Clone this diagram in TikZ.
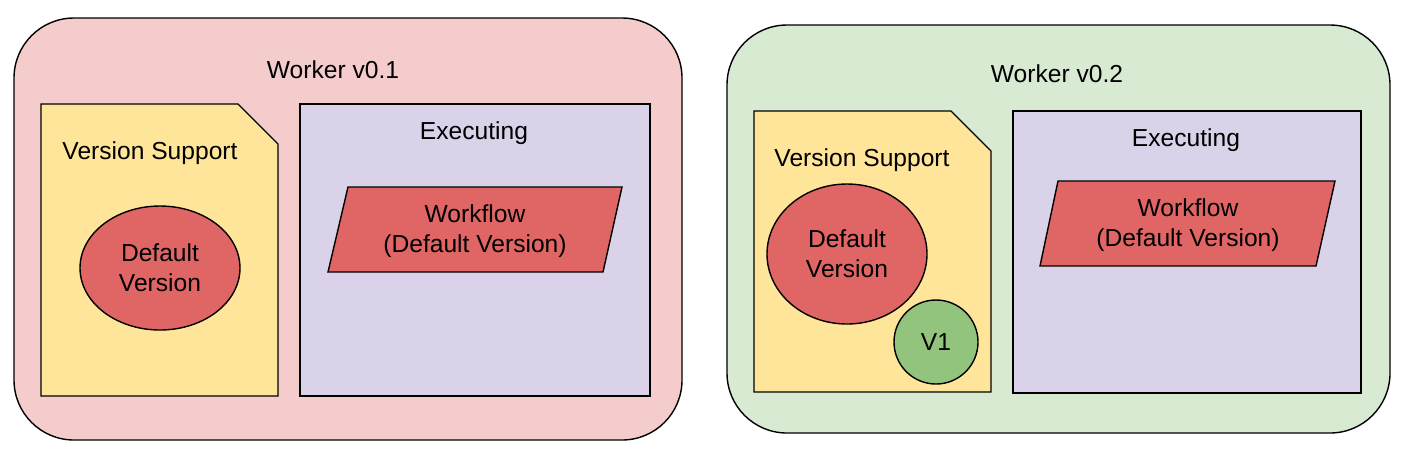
\documentclass[tikz,border=0pt]{standalone}
\usepackage{fontspec}
\setmainfont{Liberation Sans}
\usetikzlibrary{shapes.geometric}
\definecolor{pinkbg}{HTML}{F4CCCC}
\definecolor{greenbg}{HTML}{D9EAD3}
\definecolor{yel}{HTML}{FFE599}
\definecolor{lav}{HTML}{D9D2E9}
\definecolor{red1}{HTML}{E06666}
\definecolor{grn}{HTML}{93C47D}
\begin{document}
\begin{tikzpicture}[x=0.5pt,y=-0.5pt,line width=0.7pt,
  lbl/.style={font=\fontsize{12.3}{15}\selectfont,align=center}]
\useasboundingbox (0,0) rectangle (1407,463);
% left
\draw[fill=pinkbg,rounded corners=30pt] (14,18) rectangle (682,440);
\node[lbl] (w1) at (333,70) {Worker v0.1};
\draw[fill=yel] (41,104) -- (238,104) -- (278,144) -- (278,396) -- (41,396) -- cycle;
\node[lbl] (vs1) at (150,153) {Version Support};
\draw[fill=lav] (300,104) rectangle (650,396);
\node[lbl] (ex1) at (474,133) {Executing};
\node[lbl,draw,fill=red1,ellipse,minimum width=80pt,minimum height=62pt,inner sep=0pt] (dv1) at (160,268) {Default\\Version};
\draw[fill=red1] (348,187) -- (622,187) -- (603,272) -- (328,272) -- cycle;
\node[lbl] (wf1) at (475,231) {Workflow\\(Default Version)};
% right
\draw[fill=greenbg,rounded corners=30pt] (727,25) rectangle (1390,433);
\node[lbl] (w2) at (1057,74) {Worker v0.2};
\draw[fill=yel] (754,111) -- (951,111) -- (991,151) -- (991,392) -- (754,392) -- cycle;
\node[lbl] (vs2) at (862,160) {Version Support};
\draw[fill=lav] (1013,111) rectangle (1361,393);
\node[lbl,draw,fill=red1,ellipse,minimum width=80pt,minimum height=70pt,inner sep=0pt] (dv2) at (847,254) {Default\\Version};
\node[lbl] (ex2) at (1186,140) {Executing};
\node[lbl,draw,fill=grn,circle,minimum size=42pt,inner sep=0pt] (v1) at (936,342) {V1};
\draw[fill=red1] (1058,181) -- (1335,181) -- (1316,266) -- (1040,266) -- cycle;
\node[lbl] (wf2) at (1188,225) {Workflow\\(Default Version)};
\end{tikzpicture}
\end{document}
